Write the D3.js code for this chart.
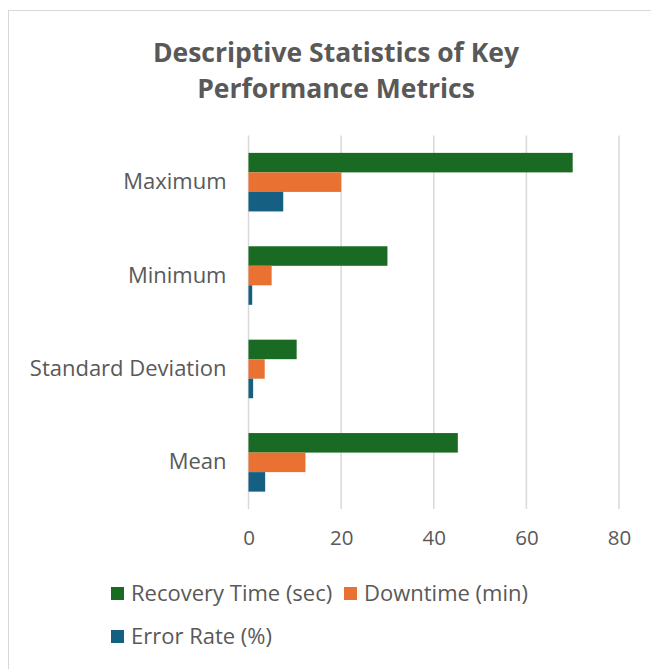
<!DOCTYPE html>
<html>
<head>
<meta charset="utf-8">
<script src="https://cdn.jsdelivr.net/npm/d3@7"></script>
<style>
  html, body { margin: 0; padding: 0; background: #fff; }
  svg { display: block; }
</style>
</head>
<body>
<svg id="chart" width="651" height="669"></svg>
<script>
// Statistics shown, top of the chart first
const categories = ["Maximum", "Minimum", "Standard Deviation", "Mean"];
const seriesNames = ["Recovery Time (sec)", "Downtime (min)", "Error Rate (%)"];
const recoveryTime = [70, 30, 10.4, 45.2];
const downtime = [20, 5, 3.5, 12.3];
const errorRate = [7.5, 0.8, 1.0, 3.6];
const xTicks = [0, 20, 40, 60, 80];
const colors = ["#196B24", "#E97132", "#156082"];

const seriesValues = [recoveryTime, downtime, errorRate];
const rows = categories.map((c, i) => ({
  category: c,
  values: seriesNames.map((s, j) => ({ series: s, value: seriesValues[j][i], idx: j }))
}));

const svg = d3.select("#chart");
const font = "'Open Sans', sans-serif";
const textColor = "#595959";

// Chart border
svg.append("rect")
  .attr("x", 8.5).attr("y", 10.5)
  .attr("width", 700).attr("height", 700)
  .attr("fill", "#fff").attr("stroke", "#d9d9d9").attr("stroke-width", 1);

// Title
const title = svg.append("text")
  .attr("text-anchor", "middle")
  .attr("font-family", font)
  .attr("font-weight", "bold")
  .attr("font-size", 26.5)
  .attr("fill", textColor);
title.append("tspan").attr("x", 336).attr("y", 62).text("Descriptive Statistics of Key");
title.append("tspan").attr("x", 336).attr("y", 98).text("Performance Metrics");

const plot = { left: 248.5, right: 619, top: 135.5, bottom: 509 };

const x = d3.scaleLinear().domain([0, 80]).range([plot.left, plot.right]);
const y = d3.scaleBand().domain(categories).range([plot.top, plot.bottom]).paddingInner(0.373).paddingOuter(0.186);
const ySub = d3.scaleBand().domain(seriesNames).range([0, y.bandwidth()]);

// Vertical gridlines
svg.append("g")
  .selectAll("line")
  .data(xTicks)
  .join("line")
  .attr("x1", d => x(d)).attr("x2", d => x(d))
  .attr("y1", plot.top).attr("y2", plot.bottom)
  .attr("stroke", "#d9d9d9").attr("stroke-width", 1.5);

// Bars
svg.append("g")
  .selectAll("g")
  .data(rows)
  .join("g")
  .attr("transform", d => `translate(0,${y(d.category)})`)
  .selectAll("rect")
  .data(d => d.values)
  .join("rect")
  .attr("x", x(0))
  .attr("y", d => ySub(d.series))
  .attr("width", d => x(d.value) - x(0))
  .attr("height", ySub.bandwidth())
  .attr("fill", d => colors[d.idx]);

// X axis labels
const xAxis = svg.append("g")
  .attr("transform", `translate(0,${plot.bottom})`)
  .call(d3.axisBottom(x).tickValues(xTicks).tickSize(0).tickPadding(21).tickFormat(d3.format("d")));
xAxis.select(".domain").remove();
xAxis.selectAll("text")
  .attr("font-family", font).attr("font-size", 20.5).attr("fill", textColor);

// Y axis labels
const yAxis = svg.append("g")
  .attr("transform", `translate(${plot.left},0)`)
  .call(d3.axisLeft(y).tickSize(0).tickPadding(22));
yAxis.select(".domain").remove();
yAxis.selectAll("text")
  .attr("font-family", font).attr("font-size", 22).attr("fill", textColor);

// Legend
const legendItems = [
  { name: seriesNames[0], color: colors[0], x: 111, y: 587 },
  { name: seriesNames[1], color: colors[1], x: 344, y: 587 },
  { name: seriesNames[2], color: colors[2], x: 111, y: 630 }
];
const legend = svg.append("g").selectAll("g").data(legendItems).join("g")
  .attr("transform", d => `translate(${d.x},${d.y})`);
legend.append("rect").attr("width", 13).attr("height", 13).attr("fill", d => d.color);
legend.append("text")
  .attr("x", 20).attr("y", 13.5)
  .attr("font-family", font).attr("font-size", 22).attr("fill", textColor)
  .text(d => d.name);
</script>
</body>
</html>
